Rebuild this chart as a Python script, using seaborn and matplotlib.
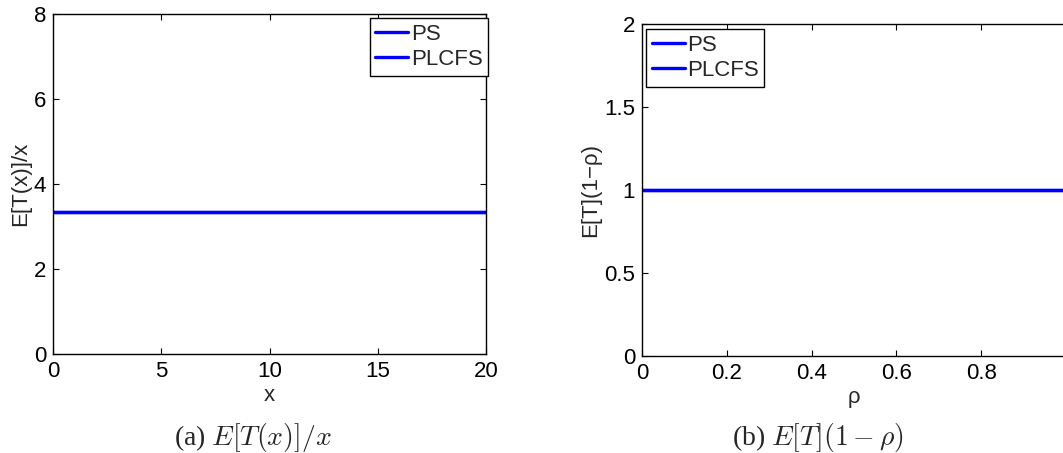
import matplotlib
matplotlib.use("Agg")
import matplotlib.pyplot as plt
import seaborn as sns
import pandas as pd

# Job size x and normalised response time E[T(x)]/x for both policies
job_size = [0, 5, 10, 15, 20]
ps_ratio = [3.333, 3.333, 3.333, 3.333, 3.333]
plcfs_ratio = [3.333, 3.333, 3.333, 3.333, 3.333]

# Load rho and E[T](1-rho) for both policies
load = [0.0, 0.2, 0.4, 0.6, 0.8, 1.0]
ps_scaled = [1.0, 1.0, 1.0, 1.0, 1.0, 1.0]
plcfs_scaled = [1.0, 1.0, 1.0, 1.0, 1.0, 1.0]

policies = ["PS", "PLCFS"]

sns.set_style("ticks")
plt.rcParams.update({
    "font.family": ["Liberation Sans", "DejaVu Sans"],
    "font.size": 16,
    "xtick.direction": "in",
    "ytick.direction": "in",
    "xtick.top": True,
    "ytick.right": True,
    "xtick.major.size": 4,
    "ytick.major.size": 4,
    "xtick.major.width": 0.8,
    "ytick.major.width": 0.8,
    "axes.edgecolor": "black",
    "axes.linewidth": 1.0,
    "xtick.color": "black",
    "ytick.color": "black",
    "mathtext.fontset": "cm",
})

df_a = pd.DataFrame({
    "x": job_size * 2,
    "y": ps_ratio + plcfs_ratio,
    "policy": [policies[0]] * len(job_size) + [policies[1]] * len(job_size),
})
df_b = pd.DataFrame({
    "x": load * 2,
    "y": ps_scaled + plcfs_scaled,
    "policy": [policies[0]] * len(load) + [policies[1]] * len(load),
})

W, H = 1063, 453
fig = plt.figure(figsize=(W / 100, H / 100), dpi=100)

ax1 = fig.add_axes([53 / W, 1 - 354 / H, 433 / W, 340 / H])
ax2 = fig.add_axes([642 / W, 1 - 356 / H, 424 / W, 332 / H])

palette = {"PS": "#0000ff", "PLCFS": "#0000ff"}

for ax, df in ((ax1, df_a), (ax2, df_b)):
    sns.lineplot(data=df, x="x", y="y", hue="policy", palette=palette,
                 linewidth=2.4, ax=ax, legend=True)
    ax.tick_params(labelsize=16, pad=5)
    for sp in ax.spines.values():
        sp.set_visible(True)
        sp.set_color("black")

ax1.set_xlim(0, 20)
ax1.set_ylim(0, 8)
ax1.set_xticks([0, 5, 10, 15, 20])
ax1.set_yticks([0, 2, 4, 6, 8])
ax1.set_xlabel("x", fontsize=16, labelpad=2)
ax1.set_ylabel("E[T(x)]/x", fontsize=16, labelpad=2)

ax2.set_xlim(0, 1)
ax2.set_ylim(0, 2)
ax2.set_xticks([0, 0.2, 0.4, 0.6, 0.8, 1.0])
ax2.set_xticklabels(["0", "0.2", "0.4", "0.6", "0.8", ""])
ax2.set_yticks([0, 0.5, 1, 1.5, 2])
ax2.set_yticklabels(["0", "0.5", "1", "1.5", "2"])
ax2.tick_params(axis="y", right=False)
ax2.set_xlabel("ρ", fontsize=16, labelpad=2)
ax2.set_ylabel("E[T](1−ρ)", fontsize=16, labelpad=2)

leg_kw = dict(title=None, frameon=True, fancybox=False, fontsize=16,
              handlelength=1.5, handletextpad=0.1, borderpad=0.25,
              labelspacing=0.2, borderaxespad=0, edgecolor="black",
              framealpha=1)
l1 = ax1.legend(loc="upper right", bbox_to_anchor=(488 / W, 1 - 18 / H),
                bbox_transform=fig.transFigure, **leg_kw)
l2 = ax2.legend(loc="upper left", bbox_to_anchor=(646 / W, 1 - 29 / H),
                bbox_transform=fig.transFigure, **leg_kw)
for lg in (l1, l2):
    lg.get_frame().set_linewidth(1.0)
    for ln in lg.get_lines():
        ln.set_linewidth(2.4)

cap_kw = dict(ha="center", va="center", fontsize=20,
              family=["Liberation Serif", "DejaVu Serif"])
fig.text(253 / W, 1 - 437 / H, r"(a) $E[T(x)]/x$", **cap_kw)
fig.text(818 / W, 1 - 437 / H, r"(b) $E[T](1-\rho)$", **cap_kw)

fig.savefig("out.png", dpi=100)
